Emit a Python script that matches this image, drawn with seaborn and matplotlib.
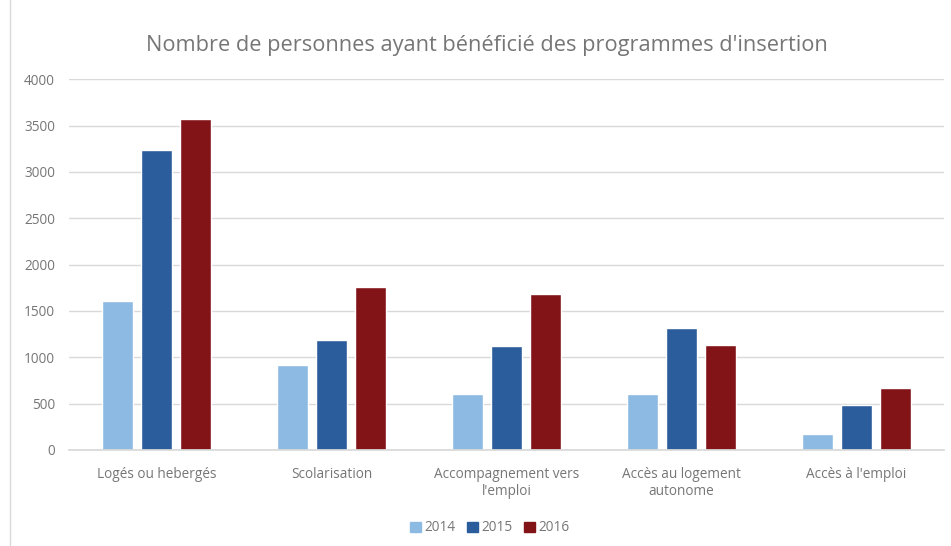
import numpy as np
import pandas as pd
import matplotlib
matplotlib.use("Agg")
import matplotlib.pyplot as plt
import seaborn as sns
from matplotlib.lines import Line2D

# data
categories = ["Logés ou hebergés", "Scolarisation", "Accompagnement vers\nl'emploi",
              "Accès au logement\nautonome", "Accès à l'emploi"]
years = ["2014", "2015", "2016"]
v2014 = [1610, 920, 607, 607, 176]
v2015 = [3234, 1185, 1121, 1315, 481]
v2016 = [3575, 1756, 1684, 1131, 668]
colors = ["#8DBAE2", "#2B5D9C", "#821418"]

df = pd.DataFrame({
    "categorie": categories * 3,
    "annee": [y for y in years for _ in categories],
    "valeur": v2014 + v2015 + v2016,
})

sns.set_theme(style="white")
plt.rcParams["font.family"] = ["Open Sans", "DejaVu Sans"]
grey = "#767676"

fig = plt.figure(figsize=(9.51, 5.46), dpi=100)
ax = fig.add_axes([0.0726, 0.176, 0.92, 0.679])

sns.barplot(data=df, x="categorie", y="valeur", hue="annee", palette=colors,
            width=0.67, gap=0.2, ax=ax, order=categories, hue_order=years,
            saturation=1, legend=True)

ax.set_ylim(0, 4000)
ax.set_yticks(np.arange(0, 4001, 500))
ax.yaxis.grid(True, color="#D9D9D9", linewidth=1)
ax.set_axisbelow(True)
for s in ["top", "right", "left"]:
    ax.spines[s].set_visible(False)
ax.spines["bottom"].set_color("#D9D9D9")
ax.set_xlabel("")
ax.set_ylabel("")
ax.tick_params(axis="both", length=0, labelsize=9.8, labelcolor=grey)
ax.tick_params(axis="y", pad=10)
ax.tick_params(axis="x", pad=12)

fig.suptitle("Nombre de personnes ayant bénéficié des programmes d'insertion",
             x=0.512, y=0.936, fontsize=15.7, color=grey)

handles = [plt.Rectangle((0, 0), 1, 1, color=c) for c in colors]
ax.get_legend().remove()
fig.legend(handles, years, loc="center", bbox_to_anchor=(0.515, 0.033), ncol=3,
           frameon=False, fontsize=9.8, labelcolor=grey, handlelength=0.8,
           handleheight=0.8, handletextpad=0.3, columnspacing=0.8)

# chart frame edge on the left
fig.add_artist(Line2D([0.011, 0.011], [0, 1], transform=fig.transFigure,
                      color="#D9D9D9", linewidth=1))

fig.savefig("out.png", dpi=100)
